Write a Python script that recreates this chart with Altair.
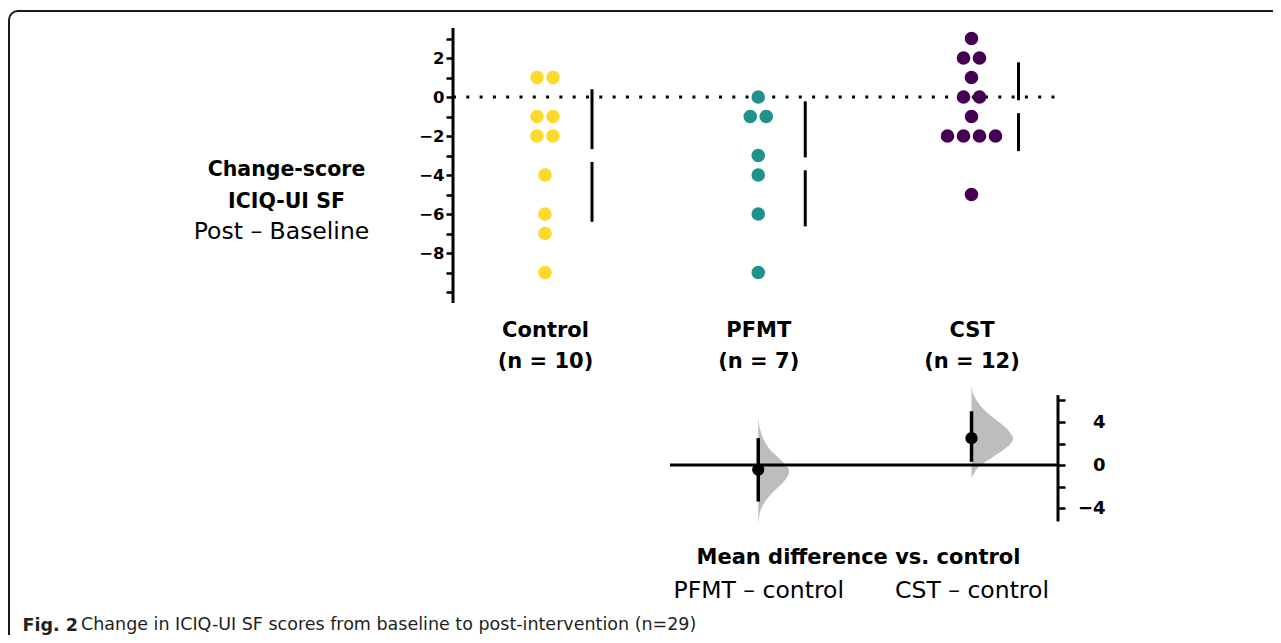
import altair as alt
import pandas as pd
import numpy as np
from collections import Counter

# ---------------- data ----------------
groups = ["Control", "PFMT", "CST"]
control_vals = [1, 1, -1, -1, -2, -2, -4, -6, -7, -9]
pfmt_vals = [0, -1, -1, -3, -4, -6, -9]
cst_vals = [3, 2, 2, 1, 0, 0, -1, -2, -2, -2, -2, -5]
group_colors = ["#FDD92A", "#21918C", "#440154"]

diff_groups = ["PFMT", "CST"]
diff_labels = ["PFMT \u2013 control", "CST \u2013 control"]
ci_low = [-3.4, 0.3]
ci_high = [2.5, 5.0]

# bootstrap distributions (value, relative density)
pfmt_boot_y = [4.47, 3.55, 2.62, 2.0, 1.39, 0.77, 0.15, -0.31, -0.62, -1.08, -1.70, -2.31, -2.93, -3.55, -4.17, -4.78, -5.71]
pfmt_boot_d = [0.0, 0.03, 0.10, 0.18, 0.29, 0.46, 0.62, 0.72, 0.74, 0.70, 0.58, 0.41, 0.26, 0.14, 0.06, 0.02, 0.0]
cst_boot_y = [7.41, 6.64, 6.02, 5.40, 4.78, 4.17, 3.55, 2.93, 2.47, 2.01, 1.39, 0.77, 0.15, -0.31, -0.77, -1.23]
cst_boot_d = [0.0, 0.04, 0.12, 0.24, 0.40, 0.60, 0.80, 0.94, 1.0, 0.94, 0.76, 0.52, 0.28, 0.14, 0.06, 0.0]

caption_bold = "Fig. 2"
caption_text = "Change in ICIQ-UI SF scores from baseline to post-intervention (n=29)"
y_title_bold = ["Change-score", "ICIQ-UI SF"]
y_title_plain = "Post \u2013 Baseline"
diff_title = "Mean difference vs. control"

# ---------------- layout constants ----------------
W, H = 1300, 660
K = 213.25            # px per group step
def px2x(p):          # page px -> x data
    return (p - 545) / K
x_dom = [px2x(9), px2x(9 + W)]
y1_dom = [-(H - 86) / 19.5, 86 / 19.5]
y2_dom = [-(H - 454) / 10.75, 454 / 10.75]

FONT = "DejaVu Sans"
swarm_step = 16 / K
gap = 0.33
line_dx = 47 / K

xscale = alt.Scale(domain=x_dom, nice=False, zero=False)
y1scale = alt.Scale(domain=y1_dom, nice=False, zero=False)
y2scale = alt.Scale(domain=y2_dom, nice=False, zero=False)

# ---------------- data frames ----------------
all_vals = [control_vals, pfmt_vals, cst_vals]
dot_rows = []
for gi, (g, vals) in enumerate(zip(groups, all_vals)):
    cnt = Counter(vals)
    for v, k in cnt.items():
        for i in range(k):
            dot_rows.append({"group": g, "ypos": v, "xpos": gi + (i - (k - 1) / 2) * swarm_step})
dots_df = pd.DataFrame(dot_rows)

seg_rows = []
for gi, vals in enumerate(all_vals):
    m = float(np.mean(vals)); s = float(np.std(vals, ddof=1))
    seg_rows.append({"xpos": gi + line_dx, "ypos": m + s, "ypos2": m + gap})
    seg_rows.append({"xpos": gi + line_dx, "ypos": m - gap, "ypos2": m - s})
seg_df = pd.DataFrame(seg_rows)

top_axis_df = pd.DataFrame([{"xpos": px2x(453), "ypos": -10.56, "ypos2": 3.54}])
zero_top_df = pd.DataFrame([{"xpos": px2x(453), "xpos2": px2x(1056), "ypos": 0}])

ctrl_mean = float(np.mean(control_vals))
diff_df = pd.DataFrame({
    "xpos": [1, 2],
    "ypos": [float(np.mean(pfmt_vals)) - ctrl_mean, float(np.mean(cst_vals)) - ctrl_mean],
    "low": ci_low, "high": ci_high,
})
vmax = 41.7 / K
boot_rows = []
for gi, (yy, dd) in zip([1, 2], [(pfmt_boot_y, pfmt_boot_d), (cst_boot_y, cst_boot_d)]):
    for y, d in zip(yy, dd):
        boot_rows.append({"group": groups[gi], "ypos": y, "xpos": gi, "xpos2": gi + d * vmax})
boot_df = pd.DataFrame(boot_rows)
zero_bot_df = pd.DataFrame([{"xpos": px2x(670), "xpos2": px2x(1058), "ypos": 0}])
bot_axis_df = pd.DataFrame([{"xpos": px2x(1058), "ypos": -5.25, "ypos2": 6.5}])

# ---------------- axes ----------------
ns = [len(v) for v in all_vals]
top_label_expr = "[" + ",".join(f"['{g}','(n = {n})']" for g, n in zip(groups, ns)) + "][datum.value]"
bot_label_expr = "[" + ",".join(f"'{l}'" for l in diff_labels) + "][datum.value - 1]"

top_x_axis = alt.Axis(
    orient="bottom", offset=-361, values=[0, 1, 2], labelExpr=top_label_expr,
    domain=False, ticks=False, grid=False, labelAngle=0,
    labelFont=FONT, labelFontSize=21, labelFontWeight="bold", labelColor="black",
    labelLineHeight=31, labelPadding=9, labelFlush=False, labelOverlap=False,
    title=caption_bold, titleFont=FONT, titleFontSize=17.5, titleFontWeight="bold",
    titleColor="#231f20", titleX=13, titleY=320, titleAlign="left",
    titleBaseline="alphabetic", titleAnchor="start",
)
top_y_axis = alt.Axis(
    orient="left", offset=-444, values=list(range(-10, 4)),
    labelExpr="datum.value % 2 == 0 && datum.value >= -8 ? datum.label : ''",
    domain=False, grid=False, tickSize=7, tickWidth=2.5, tickColor="black",
    labelFont=FONT, labelFontSize=16.5, labelFontWeight="bold", labelColor="black",
    labelPadding=2, labelOverlap=False,
    title=y_title_bold, titleAngle=0, titleX=-167, titleY=164.5,
    titleAlign="center", titleBaseline="alphabetic", titleFont=FONT,
    titleFontSize=20.5, titleFontWeight="bold", titleLineHeight=31.5, titleColor="black",
)
bot_x_axis = alt.Axis(
    orient="top", offset=-592, values=[1, 2], labelExpr=bot_label_expr,
    domain=False, ticks=False, grid=False, labelAngle=0,
    labelFont=FONT, labelFontSize=23.5, labelFontWeight="normal", labelColor="black",
    labelPadding=6, labelBaseline="alphabetic", labelFlush=False, labelOverlap=False,
    title=diff_title, titleFont=FONT, titleFontSize=21,
    titleFontWeight="bold", titleColor="black", titleX=849, titleY=-40,
    titleAlign="center", titleBaseline="alphabetic",
)
bot_y_axis = alt.Axis(
    orient="right", offset=-251, values=[-4, -2, 0, 2, 4, 6],
    labelExpr="datum.value % 4 == 0 && abs(datum.value) <= 4 ? datum.label : ''",
    domain=False, grid=False, tickSize=7, tickWidth=2.5, tickColor="black",
    labelFont=FONT, labelFontSize=18, labelFontWeight="bold", labelColor="black",
    labelAlign="right", labelPadding=40, labelOverlap=False,
    title=y_title_plain, titleAngle=0, titleX=-777, titleY=227,
    titleAlign="center", titleBaseline="alphabetic", titleFont=FONT,
    titleFontSize=23.5, titleFontWeight="normal", titleColor="black",
)

X1 = alt.X("xpos:Q", scale=xscale, axis=top_x_axis)
Y1 = alt.Y("ypos:Q", scale=y1scale, axis=top_y_axis)
X2 = alt.X("xpos:Q", scale=xscale, axis=bot_x_axis)
Y2 = alt.Y("ypos:Q", scale=y2scale, axis=bot_y_axis)

# ---------------- top panel ----------------
t_axis = alt.Chart(top_axis_df).mark_rule(color="black", strokeWidth=3, strokeCap="butt").encode(
    x=X1, y=Y1, y2="ypos2:Q")
t_zero = alt.Chart(zero_top_df).mark_rule(color="black", strokeWidth=3, strokeDash=[3, 10.3], strokeCap="butt").encode(
    x=X1, x2="xpos2:Q", y=Y1)
t_dots = alt.Chart(dots_df).mark_circle(size=185, opacity=1).encode(
    x=X1, y=Y1,
    color=alt.Color("group:N", scale=alt.Scale(domain=groups, range=group_colors), legend=None))
t_segs = alt.Chart(seg_df).mark_rule(color="black", strokeWidth=3, strokeCap="butt").encode(
    x=X1, y=Y1, y2="ypos2:Q")
top = alt.layer(t_axis, t_zero, t_dots, t_segs)

# ---------------- bottom panel ----------------
b_boot = alt.Chart(boot_df).mark_area(orient="horizontal", color="#bdbdbd", interpolate="monotone",
                                      opacity=1, clip=False).encode(
    x=X2, x2="xpos2:Q", y=Y2, detail="group:N")
b_zero = alt.Chart(zero_bot_df).mark_rule(color="black", strokeWidth=3, strokeCap="butt").encode(
    x=X2, x2="xpos2:Q", y=Y2)
b_axis = alt.Chart(bot_axis_df).mark_rule(color="black", strokeWidth=3, strokeCap="butt").encode(
    x=X2, y=Y2, y2="ypos2:Q")
b_ci = alt.Chart(diff_df).mark_rule(color="black", strokeWidth=3.5, strokeCap="butt").encode(
    x=X2, y=alt.Y("low:Q", scale=y2scale, axis=bot_y_axis), y2="high:Q")
b_dot = alt.Chart(diff_df).mark_circle(size=150, color="black", opacity=1).encode(x=X2, y=Y2)
bottom = alt.layer(b_boot, b_zero, b_axis, b_ci, b_dot)

chart = alt.layer(top, bottom).resolve_scale(y="independent").resolve_axis(
    x="independent", y="independent"
).properties(
    width=W, height=H,
    title=alt.Title(
        caption_text,
        orient="bottom", anchor="start", frame="group", dx=72, dy=-41, offset=0,
        baseline="alphabetic", font=FONT, fontSize=17.5, fontWeight="normal", color="#231f20",
    ),
    background="white",
    autosize=alt.AutoSizeParams(type="none"),
    padding={"left": 1, "top": 3, "right": -36, "bottom": -36},
).configure_view(
    stroke="#1a1a1a", strokeWidth=2, cornerRadius=9, fill="white"
)

chart.save("out.html", embed_options={"renderer": "svg", "actions": False})
